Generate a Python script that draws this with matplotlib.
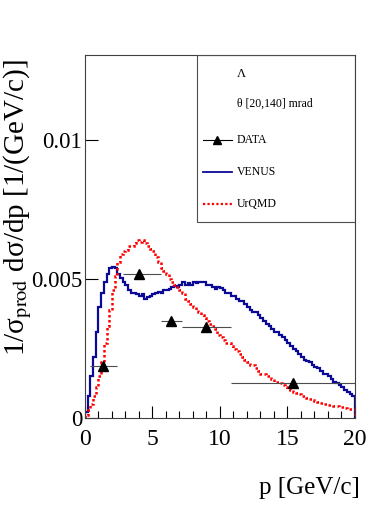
import numpy as np
import matplotlib
matplotlib.use("Agg")
import matplotlib.pyplot as plt
from matplotlib.patches import Rectangle
from matplotlib.lines import Line2D

plt.rcParams['font.family'] = ['Liberation Serif', 'DejaVu Serif']
plt.rcParams['mathtext.fontset'] = 'stix'

# histogram binning (GeV/c), 0.2 GeV/c bins
bin_edges = np.linspace(0, 20, 101)

# VENUS model (blue)
venus = [0.0002, 0.0008, 0.0015, 0.0022, 0.0031, 0.0040, 0.0045, 0.0049, 0.0052, 0.0054,
         0.00545, 0.0054, 0.0052, 0.00505, 0.0049, 0.0048, 0.0046, 0.0045, 0.0045, 0.00445,
         0.0044, 0.00445, 0.0043, 0.00435, 0.0044, 0.00445, 0.0045, 0.00455, 0.0045, 0.0046,
         0.0046, 0.00465, 0.0047, 0.00475, 0.0047, 0.0048, 0.0049, 0.0048, 0.00485, 0.0048,
         0.0049, 0.00485, 0.0049, 0.00488, 0.0049, 0.0048, 0.00478, 0.0047, 0.00465, 0.0047,
         0.00468, 0.0046, 0.0045, 0.0045, 0.0044, 0.0044, 0.0043, 0.0042, 0.0042, 0.0041,
         0.0040, 0.0039, 0.0038, 0.0038, 0.0037, 0.0036, 0.0035, 0.0034, 0.0033, 0.0032,
         0.0031, 0.0031, 0.0030, 0.0029, 0.0028, 0.0027, 0.0026, 0.0025, 0.0024, 0.0023,
         0.0022, 0.0021, 0.00205, 0.0020, 0.0019, 0.00185, 0.0018, 0.0017, 0.0016, 0.0016,
         0.0015, 0.0014, 0.0013, 0.00125, 0.0012, 0.0011, 0.0010, 0.00095, 0.00088, 0.0008]

# UrQMD model (red dotted)
urqmd = [0.0001, 0.0003, 0.0005, 0.0008, 0.0011, 0.0015, 0.0020, 0.0027, 0.0033, 0.0039,
         0.0046, 0.0051, 0.0056, 0.0059, 0.0060, 0.00605, 0.0062, 0.0062, 0.0063, 0.0064,
         0.00635, 0.0064, 0.0063, 0.0062, 0.0061, 0.0060, 0.0058, 0.0056, 0.0054, 0.0053,
         0.0052, 0.0050, 0.0049, 0.0048, 0.0047, 0.0046, 0.0045, 0.0043, 0.0042, 0.0041,
         0.0040, 0.0039, 0.0038, 0.0037, 0.0036, 0.0035, 0.0034, 0.0033, 0.0032, 0.0030,
         0.0029, 0.0028, 0.0027, 0.0027, 0.0026, 0.0025, 0.0024, 0.0023, 0.0022, 0.0021,
         0.0020, 0.0019, 0.0019, 0.0018, 0.0017, 0.0016, 0.0016, 0.0015, 0.0015, 0.0014,
         0.0013, 0.0013, 0.00125, 0.0012, 0.0011, 0.00105, 0.0010, 0.00095, 0.0009, 0.00088,
         0.0008, 0.00078, 0.00072, 0.0007, 0.00065, 0.0006, 0.00058, 0.00055, 0.00052, 0.0005,
         0.00047, 0.00045, 0.00043, 0.00042, 0.0004, 0.00038, 0.00036, 0.00034, 0.00033, 0.00032]

# measured points
data_p = [1.35, 4.0, 6.4, 9.0, 15.4]
data_lo = [0.4, 2.8, 5.6, 7.2, 10.8]
data_hi = [2.4, 5.6, 7.2, 10.8, 20.0]
data_y = [0.00188, 0.00518, 0.0035, 0.00328, 0.00127]
data_err = [0.00015, 0.00015, 0.0001, 0.0001, 0.00008]

fig = plt.figure(figsize=(3.74, 5.11), dpi=100)
ax = fig.add_axes([0.227, 0.182, 0.722, 0.710])

ax.stairs(venus, bin_edges, color='#0a0a96', lw=1.6)
ax.stairs(urqmd, bin_edges, color='red', lw=1.8, linestyle=(0, (1, 1)))

xerr = [np.array(data_p) - np.array(data_lo), np.array(data_hi) - np.array(data_p)]
ax.errorbar(data_p, data_y, xerr=xerr, yerr=data_err, fmt='^', color='black',
            ecolor='0.3', elinewidth=0.8, markersize=7, capsize=0, zorder=5)

ax.set_xlim(0, 20)
ax.set_ylim(0, 0.01306)
ax.set_xticks([0, 5, 10, 15, 20])
ax.set_xticks(np.arange(0, 21, 1), minor=True)
ax.set_yticks([0, 0.005, 0.01])
ax.set_yticklabels(['0', '0.005', '0.01'])
ax.tick_params(which='both', direction='in', labelsize=17, top=False, right=False)
ax.tick_params(which='major', length=9, width=0.8)
ax.tick_params(which='minor', length=5, width=0.8)
ax.tick_params(axis='x', pad=8)
ax.tick_params(axis='y', pad=2, labelsize=16.5)
for s in ax.spines.values():
    s.set_linewidth(0.8)
    s.set_color('0.25')

fig.text(0.962, 1 - 488 / 511, 'p [GeV/c]', ha='right', va='center', fontsize=18)
fig.text(0.047, 1 - 208 / 511, '1/σ$_{\\rm prod}$ dσ/dp [1/(GeV/c)]',
         rotation=90, ha='center', va='center', fontsize=21)

# legend box
ax.add_patch(Rectangle((0.415, 0.54), 0.585, 0.46, transform=ax.transAxes,
                       fill=False, edgecolor='0.3', lw=0.8, zorder=6))
ax.text(0.581, 0.948, 'Λ', transform=ax.transAxes, ha='center', va='center', fontsize=9)
ax.text(0.563, 0.865, 'θ [20,140] mrad', transform=ax.transAxes, va='center', fontsize=8.5)
ax.add_line(Line2D([0.437, 0.544], [0.766, 0.766], transform=ax.transAxes, color='black', lw=0.8))
ax.plot([0.49], [0.766], '^', color='black', markersize=6, transform=ax.transAxes)
ax.text(0.563, 0.766, 'DATA', transform=ax.transAxes, va='center', fontsize=8.5)
ax.add_line(Line2D([0.437, 0.544], [0.678, 0.678], transform=ax.transAxes, color='#0a0a96', lw=1.3))
ax.text(0.563, 0.678, 'VENUS', transform=ax.transAxes, va='center', fontsize=8.5)
ax.add_line(Line2D([0.437, 0.544], [0.59, 0.59], transform=ax.transAxes, color='red', lw=1.6,
                   linestyle=(0, (1, 1))))
ax.text(0.563, 0.59, 'UrQMD', transform=ax.transAxes, va='center', fontsize=8.5)

fig.savefig('out.png', dpi=100)
